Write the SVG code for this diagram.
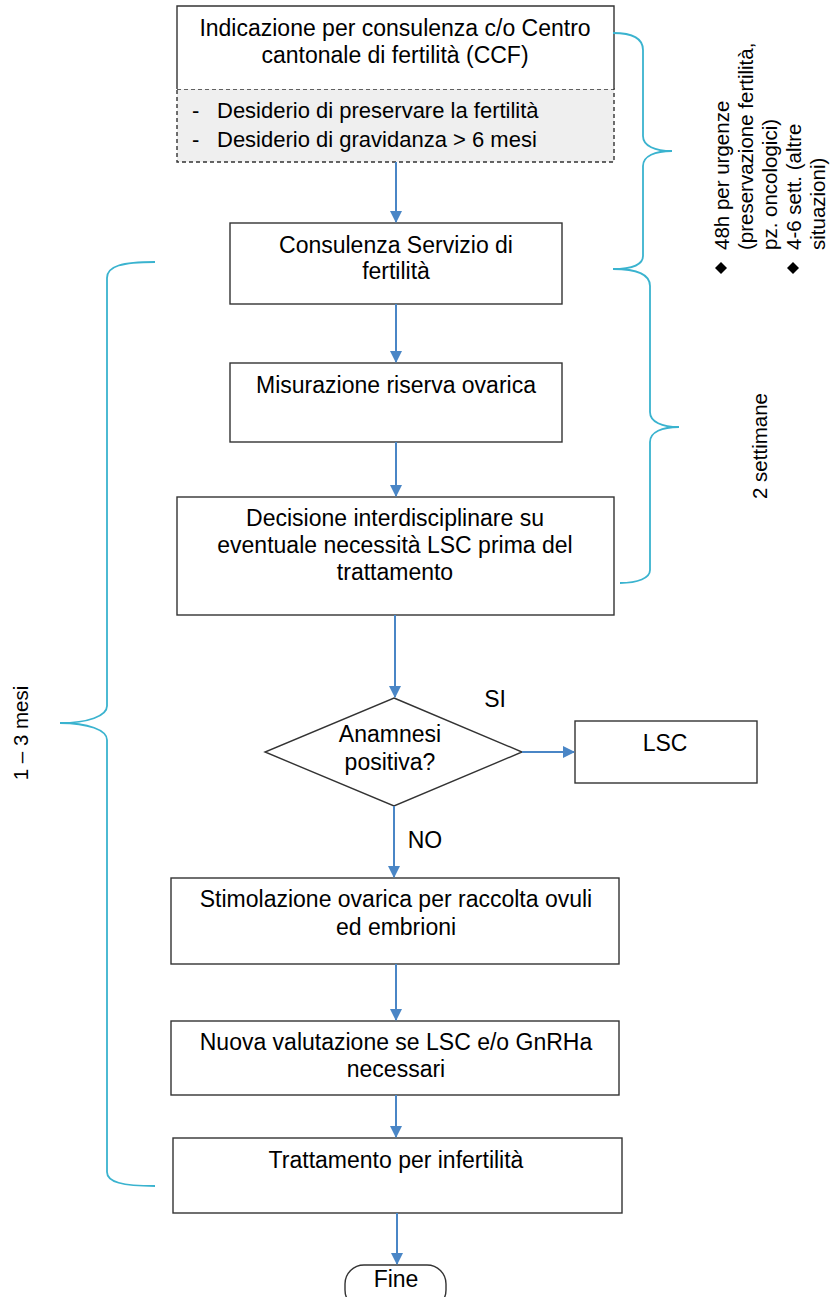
<svg xmlns="http://www.w3.org/2000/svg" width="831" height="1297" viewBox="0 0 831 1297">
<defs>
<style>
.box{fill:#ffffff;stroke:#333333;stroke-width:1.4}
.t{font-family:"Liberation Sans",Arial,sans-serif;font-size:23px;fill:#000;text-anchor:middle}
.tl{font-family:"Liberation Sans",Arial,sans-serif;font-size:22px;fill:#000}
.side{font-family:"Liberation Sans",Arial,sans-serif;font-size:20.5px;fill:#000}
.conn{stroke:#4a86c6;stroke-width:2;fill:none}
.brace{stroke:#3ab3cf;stroke-width:1.8;fill:none}
</style>
<marker id="ah" markerWidth="12" markerHeight="12" refX="11" refY="6" orient="auto" markerUnits="userSpaceOnUse">
<path d="M0,0 L12,6 L0,12 Z" fill="#4a86c6"/>
</marker>
</defs>
<rect x="0" y="0" width="831" height="1297" fill="#ffffff"/>

<g id="n1">
<rect x="177" y="89" width="437" height="73" fill="#efefef" stroke="#333333" stroke-width="1.4" stroke-dasharray="4 3"/>
<path d="M177 89 V6 H614 V89" fill="#ffffff" stroke="#333333" stroke-width="1.4"/>
<text class="t" x="395" y="36">Indicazione per consulenza c/o Centro</text>
<text class="t" x="395" y="63">cantonale di fertilità (CCF)</text>
<text class="tl" x="192" y="118" font-size="14">-</text>
<text class="tl" x="217" y="118">Desiderio di preservare la fertilità</text>
<text class="tl" x="192" y="147" font-size="14">-</text>
<text class="tl" x="217" y="147">Desiderio di gravidanza &gt; 6 mesi</text>
</g>

<g id="n2">
<rect class="box" x="230" y="223" width="332" height="81"/>
<text class="t" x="396" y="253">Consulenza Servizio di</text>
<text class="t" x="396" y="279">fertilità</text>
</g>

<g id="n3">
<rect class="box" x="230" y="363" width="332" height="79"/>
<text class="t" x="396" y="393">Misurazione riserva ovarica</text>
</g>

<g id="n4">
<rect class="box" x="177" y="497" width="437" height="118"/>
<text class="t" x="395" y="526">Decisione interdisciplinare su</text>
<text class="t" x="395" y="553">eventuale necessità LSC prima del</text>
<text class="t" x="395" y="580">trattamento</text>
</g>

<g id="n5">
<path class="box" d="M394 698 L522 752 L394 806 L265 752 Z"/>
<text class="t" x="390" y="742">Anamnesi</text>
<text class="t" x="390" y="770">positiva?</text>
</g>

<g id="n6">
<rect class="box" x="575" y="721" width="182" height="62"/>
<text class="t" x="665" y="751">LSC</text>
</g>

<g id="n7">
<rect class="box" x="171" y="878" width="448" height="86"/>
<text class="t" x="396" y="907">Stimolazione ovarica per raccolta ovuli</text>
<text class="t" x="396" y="935">ed embrioni</text>
</g>

<g id="n8">
<rect class="box" x="171" y="1021" width="448" height="74"/>
<text class="t" x="396" y="1050">Nuova valutazione se LSC e/o GnRHa</text>
<text class="t" x="396" y="1077">necessari</text>
</g>

<g id="n9">
<rect class="box" x="173" y="1138" width="449" height="75"/>
<text class="t" x="396" y="1168">Trattamento per infertilità</text>
</g>

<g id="n10">
<rect class="box" x="345" y="1265" width="101" height="44" rx="19"/>
<text class="t" x="396" y="1287" font-size="16">Fine</text>
</g>

<g id="connectors">
<line class="conn" x1="396" y1="162" x2="396" y2="222" marker-end="url(#ah)"/>
<line class="conn" x1="396" y1="304" x2="396" y2="362" marker-end="url(#ah)"/>
<line class="conn" x1="396" y1="442" x2="396" y2="496" marker-end="url(#ah)"/>
<line class="conn" x1="395" y1="615" x2="395" y2="697" marker-end="url(#ah)"/>
<line class="conn" x1="522" y1="752" x2="574" y2="752" marker-end="url(#ah)"/>
<line class="conn" x1="394" y1="806" x2="394" y2="877" marker-end="url(#ah)"/>
<line class="conn" x1="396" y1="964" x2="396" y2="1020" marker-end="url(#ah)"/>
<line class="conn" x1="396" y1="1095" x2="396" y2="1137" marker-end="url(#ah)"/>
<line class="conn" x1="397" y1="1213" x2="397" y2="1264" marker-end="url(#ah)"/>
<text class="t" x="495" y="707" font-size="21">SI</text>
<text class="t" x="425" y="848" font-size="21">NO</text>
</g>

<g id="braces">
<path class="brace" d="M613 33 C633 33 643 38 643 50 L643 136 C643 146 655 151 672 151 C655 151 643 156 643 166 L643 256 C643 264 633 269 613 269"/>
<path class="brace" d="M613 269 C635 269 650 274 650 286 L650 412 C650 422 662 427 679 427 C662 427 650 432 650 442 L650 570 C650 578 638 583 620 583"/>
<path class="brace" d="M155 262 C122 262 107 266 107 278 L107 706 C107 716 88 723 60 723 C88 723 107 730 107 740 L107 1172 C107 1182 122 1186 155 1186"/>
</g>

<g id="labels">
<path d="M721 262 L727 268 L721 274 L715 268 Z" fill="#000"/>
<path d="M793 262 L799 268 L793 274 L787 268 Z" fill="#000"/>
<g transform="rotate(-90)">
<text class="side" x="-250" y="729">48h per urgenze</text>
<text class="side" x="-250" y="753">(preservazione fertilità,</text>
<text class="side" x="-250" y="777">pz. oncologici)</text>
<text class="side" x="-250" y="801">4-6 sett. (altre</text>
<text class="side" x="-250" y="825">situazioni)</text>
<text class="side" x="-446" y="767" text-anchor="middle">2 settimane</text>
<text class="side" x="-733" y="28" text-anchor="middle">1 – 3 mesi</text>
</g>
</g>
</svg>
